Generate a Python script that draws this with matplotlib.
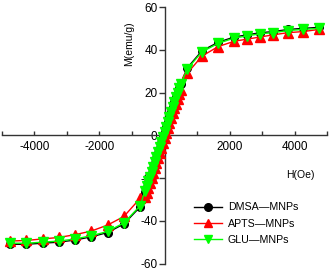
import matplotlib
matplotlib.use("Agg")
import matplotlib.pyplot as plt
from matplotlib.ticker import FixedLocator, FixedFormatter

plt.rcParams['font.family'] = ['Liberation Sans', 'DejaVu Sans']

# Field values (Oe)
H = [-4750, -4250, -3750, -3250, -2750, -2250, -1750, -1250, -750,
     -600, -550, -500, -450, -400, -350, -300, -250, -200, -150, -100, -50,
     0, 50, 100, 150, 200, 250, 300, 350, 400, 450, 500,
     700, 1150, 1650, 2150, 2550, 2950, 3350, 3800, 4250, 4750]

# Magnetization (emu/g)
M_dmsa = [-51.0, -51.0, -50.5, -50.0, -49.0, -47.5, -45.5, -41.5, -33.5,
          -26.5, -24.3, -22.0, -19.8, -17.5, -15.2, -12.8, -10.5, -8.1, -5.8, -3.4, -1.0,
          1.5, 3.9, 6.3, 8.6, 10.9, 13.2, 15.5, 17.8, 20.0, 22.1, 24.2,
          31.5, 39.5, 43.5, 46.0, 47.0, 48.0, 48.5, 49.5, 50.0, 50.5]
M_apts = [-49.5, -49.2, -48.5, -47.8, -46.5, -44.8, -42.0, -38.0, -29.5,
          -29.0, -26.8, -24.6, -22.4, -20.1, -17.8, -15.4, -13.1, -10.7, -8.4, -6.0, -3.6,
          -1.3, 1.0, 3.4, 5.7, 8.0, 10.3, 12.6, 14.8, 17.0, 19.1, 21.0,
          29.0, 37.0, 41.5, 44.0, 45.0, 46.0, 47.0, 48.0, 48.5, 49.5]
M_glu = [-50.5, -50.5, -50.0, -49.5, -48.5, -47.0, -45.0, -41.0, -33.0,
         -26.0, -23.8, -21.6, -19.4, -17.1, -14.8, -12.4, -10.1, -7.7, -5.4, -3.0, -0.65,
         1.7, 4.0, 6.4, 8.7, 11.0, 13.3, 15.6, 17.8, 20.0, 22.1, 24.0,
         31.0, 39.0, 43.0, 45.5, 46.5, 47.5, 48.0, 49.0, 49.5, 50.0]

series_labels = ["DMSA\u2014MNPs", "APTS\u2014MNPs", "GLU\u2014MNPs"]
x_ticks = [-5000, -4000, -3000, -2000, -1000, 0, 1000, 2000, 3000, 4000, 5000]
x_ticklabels = ["", "-4000", "", "-2000", "", "", "", "2000", "", "4000", ""]
y_ticks = [-60, -40, -20, 0, 20, 40, 60]
y_ticklabels = ["-60", "-40", "-20", "0", "20", "40", "60"]

fig = plt.figure(figsize=(3.31, 2.70), dpi=100)
ax = fig.add_axes([0.006, 0.024, 0.982, 0.950])

axcol = '#333333'
ax.plot(H, M_dmsa, color='black', marker='o', markersize=5.5, lw=1.0,
        label=series_labels[0], zorder=3)
ax.plot(H, M_apts, color='#ff0000', marker='^', markersize=6.5, lw=1.0,
        label=series_labels[1], zorder=4)
ax.plot(H, M_glu, color='#00ff00', marker='v', markersize=7.5, lw=1.0,
        label=series_labels[2], zorder=5)

ax.set_xlim(-5000, 5000)
ax.set_ylim(-60, 60)

for s in ['top', 'right']:
    ax.spines[s].set_visible(False)
ax.spines['left'].set_position(('data', 0))
ax.spines['bottom'].set_position(('data', 0))
for s in ['left', 'bottom']:
    ax.spines[s].set_color(axcol)
    ax.spines[s].set_linewidth(1.0)
    ax.spines[s].set_zorder(2)

ax.xaxis.set_major_locator(FixedLocator(x_ticks))
ax.xaxis.set_major_formatter(FixedFormatter(x_ticklabels))
ax.yaxis.set_major_locator(FixedLocator(y_ticks))
ax.yaxis.set_major_formatter(FixedFormatter(y_ticklabels))
ax.tick_params(axis='x', direction='in', length=3, width=1, colors=axcol,
               labelcolor='black', labelsize=8.5, pad=4)
ax.tick_params(axis='y', direction='out', length=4, width=1, colors=axcol,
               labelcolor='black', labelsize=8.5, pad=1)

ax.text(-1080, 43, "M(emu/g)", rotation=90, ha='center', va='center', fontsize=7.5)
ax.text(4190, -18.5, "H(Oe)", ha='center', va='center', fontsize=7.5)

leg = ax.legend(loc='upper left', bbox_to_anchor=(0.59, 0.238), frameon=False,
                fontsize=7.7, handlelength=2.6, handletextpad=0.6,
                labelspacing=0.58, borderaxespad=0, borderpad=0)
for h in leg.legend_handles:
    h.set_markersize(5.5)

fig.savefig("out.png", dpi=100)
